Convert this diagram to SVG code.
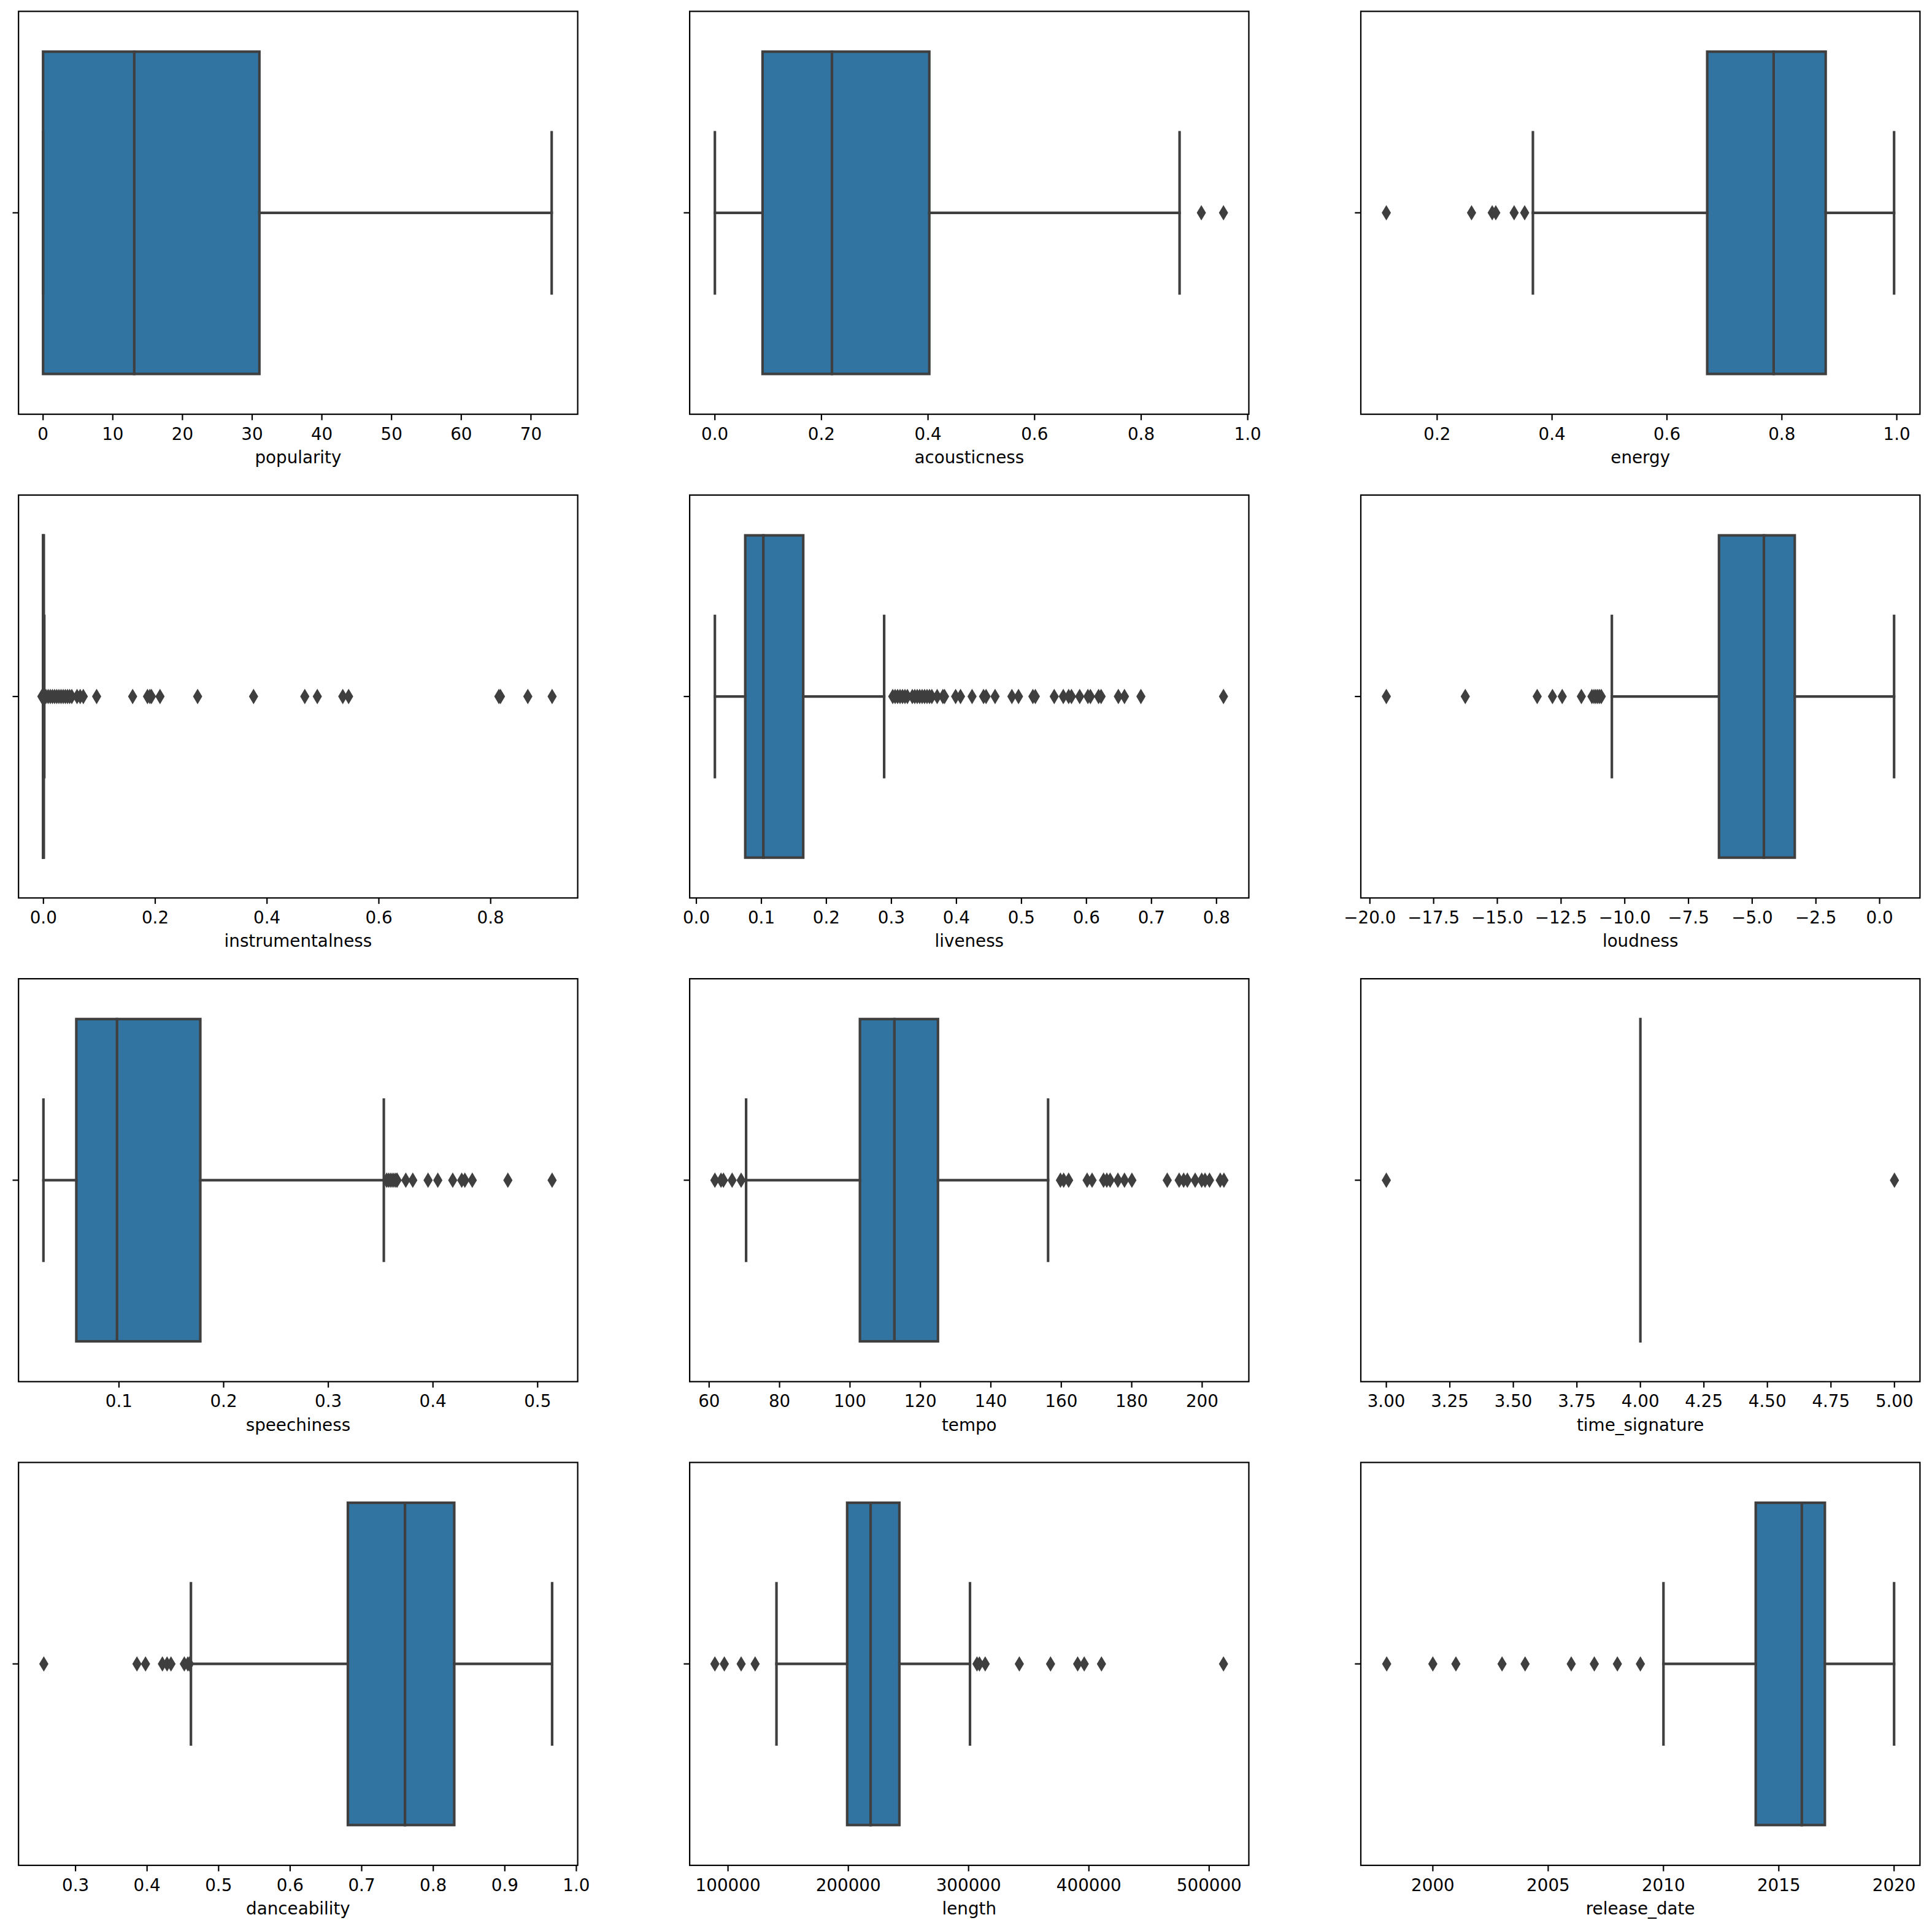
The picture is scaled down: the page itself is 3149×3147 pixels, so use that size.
<svg xmlns="http://www.w3.org/2000/svg" xmlns:xlink="http://www.w3.org/1999/xlink" width="3149" height="3147" viewBox="0 0 3149 3147">
<style>
.bg{fill:#fff}
.box{fill:#3274a1;stroke:#3f3f3f;stroke-width:4.17;stroke-linejoin:miter}
.ln{stroke:#3f3f3f;stroke-width:4.17;fill:none;stroke-linecap:square}
.fl{fill:#3f3f3f;stroke:#3f3f3f;stroke-width:2.78;stroke-linejoin:miter}
.sp{fill:none;stroke:#000;stroke-width:2.22;stroke-linejoin:miter}
.tk{stroke:#000;stroke-width:2.22}
.t{font-family:"DejaVu Sans","Liberation Sans",sans-serif;font-size:27.78px;text-anchor:middle;fill:#000}
</style>
<defs>
<path id="dm" class="fl" d="M0,-9.83L5.9,0L0,9.83L-5.9,0Z"/>
</defs>
<rect class="bg" x="0" y="0" width="3149" height="3147"/>

<!-- Row 1 -->
<g id="popularity">
<rect class="box" x="70.2" y="84.2" width="352.6" height="525.2"/>
<line class="ln" x1="422.8" y1="346.8" x2="899.2" y2="346.8"/>
<line class="ln" x1="70.2" y1="215.5" x2="70.2" y2="478.1"/>
<line class="ln" x1="899.2" y1="215.5" x2="899.2" y2="478.1"/>
<line class="ln" x1="218.8" y1="84.2" x2="218.8" y2="609.4"/>
<rect class="sp" x="30.2" y="18.5" width="911.4" height="656.6"/>
<line class="tk" x1="20.5" y1="346.8" x2="30.2" y2="346.8"/>
<g class="tk">
<line x1="70.2" y1="675.1" x2="70.2" y2="684.8"/><line x1="183.8" y1="675.1" x2="183.8" y2="684.8"/><line x1="297.4" y1="675.1" x2="297.4" y2="684.8"/><line x1="411.0" y1="675.1" x2="411.0" y2="684.8"/><line x1="524.6" y1="675.1" x2="524.6" y2="684.8"/><line x1="638.2" y1="675.1" x2="638.2" y2="684.8"/><line x1="751.8" y1="675.1" x2="751.8" y2="684.8"/><line x1="865.4" y1="675.1" x2="865.4" y2="684.8"/>
</g>
<g class="t">
<text x="70.2" y="716.6">0</text><text x="183.8" y="716.6">10</text><text x="297.4" y="716.6">20</text><text x="411.0" y="716.6">30</text><text x="524.6" y="716.6">40</text><text x="638.2" y="716.6">50</text><text x="751.8" y="716.6">60</text><text x="865.4" y="716.6">70</text>
<text x="485.9" y="755.1">popularity</text>
</g>
</g>

<g id="acousticness">
<rect class="box" x="1242.9" y="84.2" width="271.8" height="525.2"/>
<line class="ln" x1="1165.2" y1="346.8" x2="1242.9" y2="346.8"/>
<line class="ln" x1="1514.7" y1="346.8" x2="1922.6" y2="346.8"/>
<line class="ln" x1="1165.2" y1="215.5" x2="1165.2" y2="478.1"/>
<line class="ln" x1="1922.6" y1="215.5" x2="1922.6" y2="478.1"/>
<line class="ln" x1="1356.0" y1="84.2" x2="1356.0" y2="609.4"/>
<g transform="translate(0,346.8)"><use xlink:href="#dm" x="1958.1"/><use xlink:href="#dm" x="1994.2"/></g>
<rect class="sp" x="1124.1" y="18.5" width="911.4" height="656.6"/>
<line class="tk" x1="1114.4" y1="346.8" x2="1124.1" y2="346.8"/>
<g class="tk">
<line x1="1165.2" y1="675.1" x2="1165.2" y2="684.8"/><line x1="1338.9" y1="675.1" x2="1338.9" y2="684.8"/><line x1="1512.6" y1="675.1" x2="1512.6" y2="684.8"/><line x1="1686.3" y1="675.1" x2="1686.3" y2="684.8"/><line x1="1860.0" y1="675.1" x2="1860.0" y2="684.8"/><line x1="2033.7" y1="675.1" x2="2033.7" y2="684.8"/>
</g>
<g class="t">
<text x="1165.2" y="716.6">0.0</text><text x="1338.9" y="716.6">0.2</text><text x="1512.6" y="716.6">0.4</text><text x="1686.3" y="716.6">0.6</text><text x="1860.0" y="716.6">0.8</text><text x="2033.7" y="716.6">1.0</text>
<text x="1579.8" y="755.1">acousticness</text>
</g>
</g>

<g id="energy">
<rect class="box" x="2782.6" y="84.2" width="193.1" height="525.2"/>
<line class="ln" x1="2498.5" y1="346.8" x2="2782.6" y2="346.8"/>
<line class="ln" x1="2975.7" y1="346.8" x2="3087.2" y2="346.8"/>
<line class="ln" x1="2498.5" y1="215.5" x2="2498.5" y2="478.1"/>
<line class="ln" x1="3087.2" y1="215.5" x2="3087.2" y2="478.1"/>
<line class="ln" x1="2890.9" y1="84.2" x2="2890.9" y2="609.4"/>
<g transform="translate(0,346.8)"><use xlink:href="#dm" x="2259.6"/><use xlink:href="#dm" x="2398.5"/><use xlink:href="#dm" x="2432.2"/><use xlink:href="#dm" x="2438.0"/><use xlink:href="#dm" x="2467.9"/><use xlink:href="#dm" x="2485.1"/></g>
<rect class="sp" x="2218.0" y="18.5" width="911.4" height="656.6"/>
<line class="tk" x1="2208.3" y1="346.8" x2="2218.0" y2="346.8"/>
<g class="tk">
<line x1="2342.4" y1="675.1" x2="2342.4" y2="684.8"/><line x1="2529.7" y1="675.1" x2="2529.7" y2="684.8"/><line x1="2717.0" y1="675.1" x2="2717.0" y2="684.8"/><line x1="2904.3" y1="675.1" x2="2904.3" y2="684.8"/><line x1="3091.6" y1="675.1" x2="3091.6" y2="684.8"/>
</g>
<g class="t">
<text x="2342.4" y="716.6">0.2</text><text x="2529.7" y="716.6">0.4</text><text x="2717.0" y="716.6">0.6</text><text x="2904.3" y="716.6">0.8</text><text x="3091.6" y="716.6">1.0</text>
<text x="2673.7" y="755.1">energy</text>
</g>
</g>

<!-- Row 2 -->
<g id="instrumentalness">
<rect class="box" x="70.2" y="872.5" width="1.2" height="525.2"/>
<line class="ln" x1="70.2" y1="1003.8" x2="70.2" y2="1266.4"/>
<line class="ln" x1="72.2" y1="1003.8" x2="72.2" y2="1266.4"/>
<line class="ln" x1="70.4" y1="872.5" x2="70.4" y2="1397.7"/>
<g transform="translate(0,1135.1)"><use xlink:href="#dm" x="68.2"/><use xlink:href="#dm" x="71.5"/><use xlink:href="#dm" x="75"/><use xlink:href="#dm" x="78.5"/><use xlink:href="#dm" x="82"/><use xlink:href="#dm" x="85.5"/><use xlink:href="#dm" x="89"/><use xlink:href="#dm" x="92.5"/><use xlink:href="#dm" x="96"/><use xlink:href="#dm" x="99.5"/><use xlink:href="#dm" x="103"/><use xlink:href="#dm" x="106.5"/><use xlink:href="#dm" x="110"/><use xlink:href="#dm" x="113.5"/><use xlink:href="#dm" x="117"/><use xlink:href="#dm" x="125.6"/><use xlink:href="#dm" x="130.7"/><use xlink:href="#dm" x="135.8"/><use xlink:href="#dm" x="157.5"/><use xlink:href="#dm" x="216.2"/><use xlink:href="#dm" x="240.4"/><use xlink:href="#dm" x="244.3"/><use xlink:href="#dm" x="246.8"/><use xlink:href="#dm" x="260.8"/><use xlink:href="#dm" x="322.1"/><use xlink:href="#dm" x="413.3"/><use xlink:href="#dm" x="496.8"/><use xlink:href="#dm" x="517.2"/><use xlink:href="#dm" x="558.7"/><use xlink:href="#dm" x="568.2"/><use xlink:href="#dm" x="813.1"/><use xlink:href="#dm" x="815.7"/><use xlink:href="#dm" x="860.3"/><use xlink:href="#dm" x="899.9"/></g>
<rect class="sp" x="30.2" y="806.8" width="911.4" height="656.6"/>
<line class="tk" x1="20.5" y1="1135.1" x2="30.2" y2="1135.1"/>
<g class="tk">
<line x1="70.8" y1="1463.4" x2="70.8" y2="1473.1"/><line x1="253.0" y1="1463.4" x2="253.0" y2="1473.1"/><line x1="435.2" y1="1463.4" x2="435.2" y2="1473.1"/><line x1="617.5" y1="1463.4" x2="617.5" y2="1473.1"/><line x1="799.7" y1="1463.4" x2="799.7" y2="1473.1"/>
</g>
<g class="t">
<text x="70.8" y="1504.9">0.0</text><text x="253.0" y="1504.9">0.2</text><text x="435.2" y="1504.9">0.4</text><text x="617.5" y="1504.9">0.6</text><text x="799.7" y="1504.9">0.8</text>
<text x="485.9" y="1543.4">instrumentalness</text>
</g>
</g>

<g id="liveness">
<rect class="box" x="1214.7" y="872.5" width="94.5" height="525.2"/>
<line class="ln" x1="1165.2" y1="1135.1" x2="1214.7" y2="1135.1"/>
<line class="ln" x1="1309.2" y1="1135.1" x2="1441.1" y2="1135.1"/>
<line class="ln" x1="1165.2" y1="1003.8" x2="1165.2" y2="1266.4"/>
<line class="ln" x1="1441.1" y1="1003.8" x2="1441.1" y2="1266.4"/>
<line class="ln" x1="1244.2" y1="872.5" x2="1244.2" y2="1397.7"/>
<g transform="translate(0,1135.1)"><use xlink:href="#dm" x="1455.1"/><use xlink:href="#dm" x="1459"/><use xlink:href="#dm" x="1463"/><use xlink:href="#dm" x="1467"/><use xlink:href="#dm" x="1471"/><use xlink:href="#dm" x="1475"/><use xlink:href="#dm" x="1479"/><use xlink:href="#dm" x="1487"/><use xlink:href="#dm" x="1491"/><use xlink:href="#dm" x="1495"/><use xlink:href="#dm" x="1499"/><use xlink:href="#dm" x="1503"/><use xlink:href="#dm" x="1507"/><use xlink:href="#dm" x="1511"/><use xlink:href="#dm" x="1515"/><use xlink:href="#dm" x="1518.8"/><use xlink:href="#dm" x="1527.5"/><use xlink:href="#dm" x="1536.8"/><use xlink:href="#dm" x="1539.5"/><use xlink:href="#dm" x="1557.6"/><use xlink:href="#dm" x="1565.6"/><use xlink:href="#dm" x="1584.4"/><use xlink:href="#dm" x="1603.1"/><use xlink:href="#dm" x="1607.2"/><use xlink:href="#dm" x="1621.9"/><use xlink:href="#dm" x="1649.3"/><use xlink:href="#dm" x="1660.1"/><use xlink:href="#dm" x="1683.5"/><use xlink:href="#dm" x="1687.5"/><use xlink:href="#dm" x="1718.3"/><use xlink:href="#dm" x="1733.1"/><use xlink:href="#dm" x="1741.8"/><use xlink:href="#dm" x="1746.4"/><use xlink:href="#dm" x="1759.8"/><use xlink:href="#dm" x="1773.2"/><use xlink:href="#dm" x="1777.3"/><use xlink:href="#dm" x="1790.6"/><use xlink:href="#dm" x="1794.7"/><use xlink:href="#dm" x="1822.8"/><use xlink:href="#dm" x="1832.8"/><use xlink:href="#dm" x="1859.6"/><use xlink:href="#dm" x="1994.2"/></g>
<rect class="sp" x="1124.1" y="806.8" width="911.4" height="656.6"/>
<line class="tk" x1="1114.4" y1="1135.1" x2="1124.1" y2="1135.1"/>
<g class="tk">
<line x1="1135.0" y1="1463.4" x2="1135.0" y2="1473.1"/><line x1="1241.0" y1="1463.4" x2="1241.0" y2="1473.1"/><line x1="1346.9" y1="1463.4" x2="1346.9" y2="1473.1"/><line x1="1452.9" y1="1463.4" x2="1452.9" y2="1473.1"/><line x1="1558.9" y1="1463.4" x2="1558.9" y2="1473.1"/><line x1="1664.9" y1="1463.4" x2="1664.9" y2="1473.1"/><line x1="1770.8" y1="1463.4" x2="1770.8" y2="1473.1"/><line x1="1876.8" y1="1463.4" x2="1876.8" y2="1473.1"/><line x1="1982.8" y1="1463.4" x2="1982.8" y2="1473.1"/>
</g>
<g class="t">
<text x="1135.0" y="1504.9">0.0</text><text x="1241.0" y="1504.9">0.1</text><text x="1346.9" y="1504.9">0.2</text><text x="1452.9" y="1504.9">0.3</text><text x="1558.9" y="1504.9">0.4</text><text x="1664.9" y="1504.9">0.5</text><text x="1770.8" y="1504.9">0.6</text><text x="1876.8" y="1504.9">0.7</text><text x="1982.8" y="1504.9">0.8</text>
<text x="1579.8" y="1543.4">liveness</text>
</g>
</g>

<g id="loudness">
<rect class="box" x="2801.8" y="872.5" width="123.5" height="525.2"/>
<line class="ln" x1="2627.2" y1="1135.1" x2="2801.8" y2="1135.1"/>
<line class="ln" x1="2925.3" y1="1135.1" x2="3087.2" y2="1135.1"/>
<line class="ln" x1="2627.2" y1="1003.8" x2="2627.2" y2="1266.4"/>
<line class="ln" x1="3087.2" y1="1003.8" x2="3087.2" y2="1266.4"/>
<line class="ln" x1="2875.0" y1="872.5" x2="2875.0" y2="1397.7"/>
<g transform="translate(0,1135.1)"><use xlink:href="#dm" x="2259.6"/><use xlink:href="#dm" x="2388.3"/><use xlink:href="#dm" x="2505.5"/><use xlink:href="#dm" x="2530.4"/><use xlink:href="#dm" x="2546.3"/><use xlink:href="#dm" x="2577.5"/><use xlink:href="#dm" x="2594.7"/><use xlink:href="#dm" x="2598"/><use xlink:href="#dm" x="2601"/><use xlink:href="#dm" x="2604"/><use xlink:href="#dm" x="2607"/><use xlink:href="#dm" x="2610"/></g>
<rect class="sp" x="2218.0" y="806.8" width="911.4" height="656.6"/>
<line class="tk" x1="2208.3" y1="1135.1" x2="2218.0" y2="1135.1"/>
<g class="tk">
<line x1="2232.8" y1="1463.4" x2="2232.8" y2="1473.1"/><line x1="2336.7" y1="1463.4" x2="2336.7" y2="1473.1"/><line x1="2440.5" y1="1463.4" x2="2440.5" y2="1473.1"/><line x1="2544.4" y1="1463.4" x2="2544.4" y2="1473.1"/><line x1="2648.2" y1="1463.4" x2="2648.2" y2="1473.1"/><line x1="2752.1" y1="1463.4" x2="2752.1" y2="1473.1"/><line x1="2855.9" y1="1463.4" x2="2855.9" y2="1473.1"/><line x1="2959.8" y1="1463.4" x2="2959.8" y2="1473.1"/><line x1="3063.6" y1="1463.4" x2="3063.6" y2="1473.1"/>
</g>
<g class="t">
<text x="2232.8" y="1504.9">−20.0</text><text x="2336.7" y="1504.9">−17.5</text><text x="2440.5" y="1504.9">−15.0</text><text x="2544.4" y="1504.9">−12.5</text><text x="2648.2" y="1504.9">−10.0</text><text x="2752.1" y="1504.9">−7.5</text><text x="2855.9" y="1504.9">−5.0</text><text x="2959.8" y="1504.9">−2.5</text><text x="3063.6" y="1504.9">0.0</text>
<text x="2673.7" y="1543.4">loudness</text>
</g>
</g>

<!-- Row 3 -->
<g id="speechiness">
<rect class="box" x="124.4" y="1660.8" width="202.1" height="525.2"/>
<line class="ln" x1="70.8" y1="1923.4" x2="124.4" y2="1923.4"/>
<line class="ln" x1="326.5" y1="1923.4" x2="625.6" y2="1923.4"/>
<line class="ln" x1="70.8" y1="1792.1" x2="70.8" y2="2054.7"/>
<line class="ln" x1="625.6" y1="1792.1" x2="625.6" y2="2054.7"/>
<line class="ln" x1="190.7" y1="1660.8" x2="190.7" y2="2186.0"/>
<g transform="translate(0,1923.4)"><use xlink:href="#dm" x="630.1"/><use xlink:href="#dm" x="633"/><use xlink:href="#dm" x="636"/><use xlink:href="#dm" x="639"/><use xlink:href="#dm" x="642"/><use xlink:href="#dm" x="645"/><use xlink:href="#dm" x="647.3"/><use xlink:href="#dm" x="661.4"/><use xlink:href="#dm" x="672.8"/><use xlink:href="#dm" x="697.7"/><use xlink:href="#dm" x="713.6"/><use xlink:href="#dm" x="737.9"/><use xlink:href="#dm" x="752.6"/><use xlink:href="#dm" x="757.7"/><use xlink:href="#dm" x="769.8"/><use xlink:href="#dm" x="827.8"/><use xlink:href="#dm" x="899.9"/></g>
<rect class="sp" x="30.2" y="1595.1" width="911.4" height="656.6"/>
<line class="tk" x1="20.5" y1="1923.4" x2="30.2" y2="1923.4"/>
<g class="tk">
<line x1="193.9" y1="2251.7" x2="193.9" y2="2261.4"/><line x1="364.5" y1="2251.7" x2="364.5" y2="2261.4"/><line x1="535.1" y1="2251.7" x2="535.1" y2="2261.4"/><line x1="705.7" y1="2251.7" x2="705.7" y2="2261.4"/><line x1="876.3" y1="2251.7" x2="876.3" y2="2261.4"/>
</g>
<g class="t">
<text x="193.9" y="2293.2">0.1</text><text x="364.5" y="2293.2">0.2</text><text x="535.1" y="2293.2">0.3</text><text x="705.7" y="2293.2">0.4</text><text x="876.3" y="2293.2">0.5</text>
<text x="485.9" y="2331.7">speechiness</text>
</g>
</g>

<g id="tempo">
<rect class="box" x="1401.6" y="1660.8" width="127.2" height="525.2"/>
<line class="ln" x1="1216.1" y1="1923.4" x2="1401.6" y2="1923.4"/>
<line class="ln" x1="1528.8" y1="1923.4" x2="1708.3" y2="1923.4"/>
<line class="ln" x1="1216.1" y1="1792.1" x2="1216.1" y2="2054.7"/>
<line class="ln" x1="1708.3" y1="1792.1" x2="1708.3" y2="2054.7"/>
<line class="ln" x1="1457.8" y1="1660.8" x2="1457.8" y2="2186.0"/>
<g transform="translate(0,1923.4)"><use xlink:href="#dm" x="1165.2"/><use xlink:href="#dm" x="1175.2"/><use xlink:href="#dm" x="1179.2"/><use xlink:href="#dm" x="1193.3"/><use xlink:href="#dm" x="1208.0"/><use xlink:href="#dm" x="1728.4"/><use xlink:href="#dm" x="1733.7"/><use xlink:href="#dm" x="1741.8"/><use xlink:href="#dm" x="1771.9"/><use xlink:href="#dm" x="1780.0"/><use xlink:href="#dm" x="1798.7"/><use xlink:href="#dm" x="1804.0"/><use xlink:href="#dm" x="1809.4"/><use xlink:href="#dm" x="1822.1"/><use xlink:href="#dm" x="1832.8"/><use xlink:href="#dm" x="1844.9"/><use xlink:href="#dm" x="1902.5"/><use xlink:href="#dm" x="1921.9"/><use xlink:href="#dm" x="1929.3"/><use xlink:href="#dm" x="1935.3"/><use xlink:href="#dm" x="1948.0"/><use xlink:href="#dm" x="1958.7"/><use xlink:href="#dm" x="1964.1"/><use xlink:href="#dm" x="1971.4"/><use xlink:href="#dm" x="1988.9"/><use xlink:href="#dm" x="1994.9"/></g>
<rect class="sp" x="1124.1" y="1595.1" width="911.4" height="656.6"/>
<line class="tk" x1="1114.4" y1="1923.4" x2="1124.1" y2="1923.4"/>
<g class="tk">
<line x1="1155.8" y1="2251.7" x2="1155.8" y2="2261.4"/><line x1="1270.6" y1="2251.7" x2="1270.6" y2="2261.4"/><line x1="1385.4" y1="2251.7" x2="1385.4" y2="2261.4"/><line x1="1500.2" y1="2251.7" x2="1500.2" y2="2261.4"/><line x1="1615.0" y1="2251.7" x2="1615.0" y2="2261.4"/><line x1="1729.8" y1="2251.7" x2="1729.8" y2="2261.4"/><line x1="1844.6" y1="2251.7" x2="1844.6" y2="2261.4"/><line x1="1959.4" y1="2251.7" x2="1959.4" y2="2261.4"/>
</g>
<g class="t">
<text x="1155.8" y="2293.2">60</text><text x="1270.6" y="2293.2">80</text><text x="1385.4" y="2293.2">100</text><text x="1500.2" y="2293.2">120</text><text x="1615.0" y="2293.2">140</text><text x="1729.8" y="2293.2">160</text><text x="1844.6" y="2293.2">180</text><text x="1959.4" y="2293.2">200</text>
<text x="1579.8" y="2331.7">tempo</text>
</g>
</g>

<g id="time_signature">
<line class="ln" x1="2673.7" y1="1660.8" x2="2673.7" y2="2186.0"/>
<g transform="translate(0,1923.4)"><use xlink:href="#dm" x="2259.6"/><use xlink:href="#dm" x="3087.8"/></g>
<rect class="sp" x="2218.0" y="1595.1" width="911.4" height="656.6"/>
<line class="tk" x1="2208.3" y1="1923.4" x2="2218.0" y2="1923.4"/>
<g class="tk">
<line x1="2259.6" y1="2251.7" x2="2259.6" y2="2261.4"/><line x1="2363.1" y1="2251.7" x2="2363.1" y2="2261.4"/><line x1="2466.6" y1="2251.7" x2="2466.6" y2="2261.4"/><line x1="2570.2" y1="2251.7" x2="2570.2" y2="2261.4"/><line x1="2673.7" y1="2251.7" x2="2673.7" y2="2261.4"/><line x1="2777.2" y1="2251.7" x2="2777.2" y2="2261.4"/><line x1="2880.7" y1="2251.7" x2="2880.7" y2="2261.4"/><line x1="2984.3" y1="2251.7" x2="2984.3" y2="2261.4"/><line x1="3087.8" y1="2251.7" x2="3087.8" y2="2261.4"/>
</g>
<g class="t">
<text x="2259.6" y="2293.2">3.00</text><text x="2363.1" y="2293.2">3.25</text><text x="2466.6" y="2293.2">3.50</text><text x="2570.2" y="2293.2">3.75</text><text x="2673.7" y="2293.2">4.00</text><text x="2777.2" y="2293.2">4.25</text><text x="2880.7" y="2293.2">4.50</text><text x="2984.3" y="2293.2">4.75</text><text x="3087.8" y="2293.2">5.00</text>
<text x="2673.7" y="2331.7">time_signature</text>
</g>
</g>

<!-- Row 4 -->
<g id="danceability">
<rect class="box" x="567.0" y="2449.1" width="173.4" height="525.2"/>
<line class="ln" x1="311.2" y1="2711.7" x2="567.0" y2="2711.7"/>
<line class="ln" x1="740.4" y1="2711.7" x2="899.9" y2="2711.7"/>
<line class="ln" x1="311.2" y1="2580.4" x2="311.2" y2="2843.0"/>
<line class="ln" x1="899.9" y1="2580.4" x2="899.9" y2="2843.0"/>
<line class="ln" x1="660.1" y1="2449.1" x2="660.1" y2="2974.3"/>
<g transform="translate(0,2711.7)"><use xlink:href="#dm" x="71.4"/><use xlink:href="#dm" x="223.2"/><use xlink:href="#dm" x="237.2"/><use xlink:href="#dm" x="264.7"/><use xlink:href="#dm" x="272.3"/><use xlink:href="#dm" x="278.7"/><use xlink:href="#dm" x="300.4"/><use xlink:href="#dm" x="306.1"/><use xlink:href="#dm" x="308.7"/></g>
<rect class="sp" x="30.2" y="2383.4" width="911.4" height="656.6"/>
<line class="tk" x1="20.5" y1="2711.7" x2="30.2" y2="2711.7"/>
<g class="tk">
<line x1="123.1" y1="3040.0" x2="123.1" y2="3049.7"/><line x1="239.7" y1="3040.0" x2="239.7" y2="3049.7"/><line x1="356.3" y1="3040.0" x2="356.3" y2="3049.7"/><line x1="472.9" y1="3040.0" x2="472.9" y2="3049.7"/><line x1="589.5" y1="3040.0" x2="589.5" y2="3049.7"/><line x1="706.2" y1="3040.0" x2="706.2" y2="3049.7"/><line x1="822.8" y1="3040.0" x2="822.8" y2="3049.7"/><line x1="939.4" y1="3040.0" x2="939.4" y2="3049.7"/>
</g>
<g class="t">
<text x="123.1" y="3081.5">0.3</text><text x="239.7" y="3081.5">0.4</text><text x="356.3" y="3081.5">0.5</text><text x="472.9" y="3081.5">0.6</text><text x="589.5" y="3081.5">0.7</text><text x="706.2" y="3081.5">0.8</text><text x="822.8" y="3081.5">0.9</text><text x="939.4" y="3081.5">1.0</text>
<text x="485.9" y="3120.0">danceability</text>
</g>
</g>

<g id="length">
<rect class="box" x="1380.8" y="2449.1" width="85.1" height="525.2"/>
<line class="ln" x1="1265.6" y1="2711.7" x2="1380.8" y2="2711.7"/>
<line class="ln" x1="1465.9" y1="2711.7" x2="1581.0" y2="2711.7"/>
<line class="ln" x1="1265.6" y1="2580.4" x2="1265.6" y2="2843.0"/>
<line class="ln" x1="1581.0" y1="2580.4" x2="1581.0" y2="2843.0"/>
<line class="ln" x1="1419.0" y1="2449.1" x2="1419.0" y2="2974.3"/>
<g transform="translate(0,2711.7)"><use xlink:href="#dm" x="1165.2"/><use xlink:href="#dm" x="1180.6"/><use xlink:href="#dm" x="1208.0"/><use xlink:href="#dm" x="1230.8"/><use xlink:href="#dm" x="1592.4"/><use xlink:href="#dm" x="1596.4"/><use xlink:href="#dm" x="1605.8"/><use xlink:href="#dm" x="1661.4"/><use xlink:href="#dm" x="1712.3"/><use xlink:href="#dm" x="1756.5"/><use xlink:href="#dm" x="1767.2"/><use xlink:href="#dm" x="1795.3"/><use xlink:href="#dm" x="1994.2"/></g>
<rect class="sp" x="1124.1" y="2383.4" width="911.4" height="656.6"/>
<line class="tk" x1="1114.4" y1="2711.7" x2="1124.1" y2="2711.7"/>
<g class="tk">
<line x1="1186.6" y1="3040.0" x2="1186.6" y2="3049.7"/><line x1="1382.7" y1="3040.0" x2="1382.7" y2="3049.7"/><line x1="1578.7" y1="3040.0" x2="1578.7" y2="3049.7"/><line x1="1774.8" y1="3040.0" x2="1774.8" y2="3049.7"/><line x1="1970.8" y1="3040.0" x2="1970.8" y2="3049.7"/>
</g>
<g class="t">
<text x="1186.6" y="3081.5">100000</text><text x="1382.7" y="3081.5">200000</text><text x="1578.7" y="3081.5">300000</text><text x="1774.8" y="3081.5">400000</text><text x="1970.8" y="3081.5">500000</text>
<text x="1579.8" y="3120.0">length</text>
</g>
</g>

<g id="release_date">
<rect class="box" x="2861.7" y="2449.1" width="112.7" height="525.2"/>
<line class="ln" x1="2711.3" y1="2711.7" x2="2861.7" y2="2711.7"/>
<line class="ln" x1="2974.4" y1="2711.7" x2="3087.2" y2="2711.7"/>
<line class="ln" x1="2711.3" y1="2580.4" x2="2711.3" y2="2843.0"/>
<line class="ln" x1="3087.2" y1="2580.4" x2="3087.2" y2="2843.0"/>
<line class="ln" x1="2936.8" y1="2449.1" x2="2936.8" y2="2974.3"/>
<g transform="translate(0,2711.7)"><use xlink:href="#dm" x="2260.2"/><use xlink:href="#dm" x="2335.4"/><use xlink:href="#dm" x="2373.0"/><use xlink:href="#dm" x="2448.2"/><use xlink:href="#dm" x="2485.8"/><use xlink:href="#dm" x="2561.0"/><use xlink:href="#dm" x="2598.6"/><use xlink:href="#dm" x="2636.2"/><use xlink:href="#dm" x="2673.7"/></g>
<rect class="sp" x="2218.0" y="2383.4" width="911.4" height="656.6"/>
<line class="tk" x1="2208.3" y1="2711.7" x2="2218.0" y2="2711.7"/>
<g class="tk">
<line x1="2335.4" y1="3040.0" x2="2335.4" y2="3049.7"/><line x1="2523.4" y1="3040.0" x2="2523.4" y2="3049.7"/><line x1="2711.3" y1="3040.0" x2="2711.3" y2="3049.7"/><line x1="2899.3" y1="3040.0" x2="2899.3" y2="3049.7"/><line x1="3087.2" y1="3040.0" x2="3087.2" y2="3049.7"/>
</g>
<g class="t">
<text x="2335.4" y="3081.5">2000</text><text x="2523.4" y="3081.5">2005</text><text x="2711.3" y="3081.5">2010</text><text x="2899.3" y="3081.5">2015</text><text x="3087.2" y="3081.5">2020</text>
<text x="2673.7" y="3120.0">release_date</text>
</g>
</g>
</svg>
